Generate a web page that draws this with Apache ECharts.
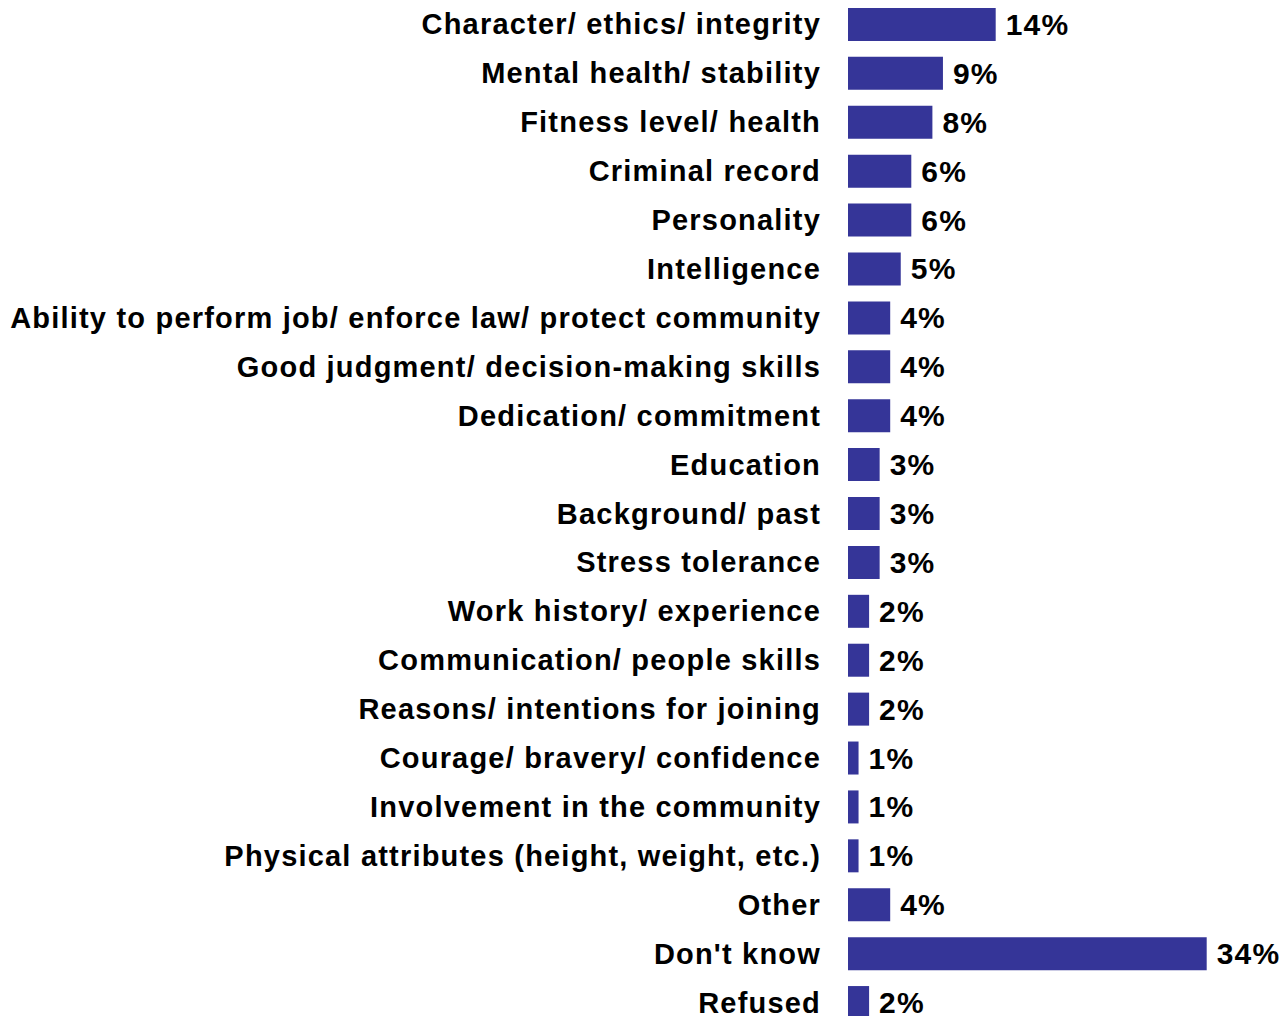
<!DOCTYPE html>
<html>
<head>
<meta charset="utf-8">
<script src="https://cdn.jsdelivr.net/npm/echarts@6/dist/echarts.min.js"></script>
<style>
  html, body { margin: 0; padding: 0; background: #fff; }
  #chart { width: 1284px; height: 1016px; overflow: hidden; }
  /* slightly open tracking on all chart text */
  #chart svg text { letter-spacing: 1.2px; }
</style>
</head>
<body>
<div id="chart"></div>
<script>
const categories = [
  'Character/ ethics/ integrity',
  'Mental health/ stability',
  'Fitness level/ health',
  'Criminal record',
  'Personality',
  'Intelligence',
  'Ability to perform job/ enforce law/ protect community',
  'Good judgment/ decision-making skills',
  'Dedication/ commitment',
  'Education',
  'Background/ past',
  'Stress tolerance',
  'Work history/ experience',
  'Communication/ people skills',
  'Reasons/ intentions for joining',
  'Courage/ bravery/ confidence',
  'Involvement in the community',
  'Physical attributes (height, weight, etc.)',
  'Other',
  "Don't know",
  'Refused'
];
const values = [14, 9, 8, 6, 6, 5, 4, 4, 4, 3, 3, 3, 2, 2, 2, 1, 1, 1, 4, 34, 2];

const chart = echarts.init(document.getElementById('chart'), null, { renderer: 'svg' });
const FONT = '"Liberation Sans", Arial, sans-serif';

chart.setOption({
  animation: false,
  grid: {
    left: 848, top: 0, width: 422, height: 1027,
    containLabel: false, outerBoundsMode: 'none'
  },
  xAxis: {
    type: 'value', min: 0, max: 40,
    show: false
  },
  yAxis: {
    type: 'category',
    data: categories,
    inverse: true,
    axisLine: { show: false },
    axisTick: { show: false },
    axisLabel: {
      margin: 27,
      color: '#000',
      fontFamily: FONT,
      fontWeight: 'bold',
      fontSize: 29,
      lineHeight: 22
    }
  },
  series: [{
    type: 'bar',
    data: values,
    barWidth: 33,
    itemStyle: { color: '#353598' },
    label: {
      show: true,
      position: 'right',
      distance: 10,
      formatter: '{c}%',
      color: '#000',
      fontFamily: FONT,
      fontWeight: 'bold',
      fontSize: 30,
      lineHeight: 22
    }
  }]
});
</script>
</body>
</html>
